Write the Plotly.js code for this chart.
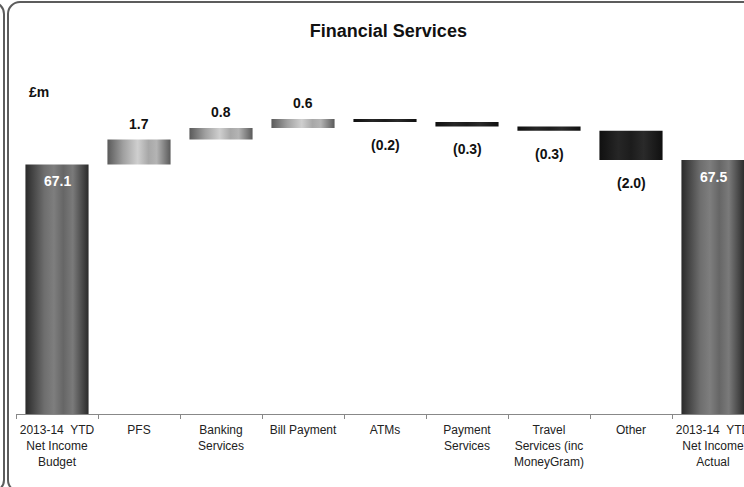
<!DOCTYPE html>
<html>
<head>
<meta charset="utf-8">
<script src="https://cdn.plot.ly/plotly-3.0.1.min.js"></script>
<style>
  html, body { margin: 0; padding: 0; width: 744px; height: 487px; overflow: hidden; background: #fff; }
  #chart { position: absolute; left: 0; top: 0; width: 760px; height: 487px; }
  .frame { position: absolute; border: 2px solid #5c5c5c; border-radius: 13px; pointer-events: none; box-sizing: border-box; }
</style>
</head>
<body>
<div id="chart"></div>
<div class="frame" style="left:-100px; top:1px; width:105px; height:492px;"></div>
<div class="frame" style="left:7px; top:1px; width:800px; height:492px;"></div>
<script>
const categories = ["2013-14 YTD Net Income Budget", "PFS", "Banking Services", "Bill Payment", "ATMs",
  "Payment Services", "Travel Services (inc MoneyGram)", "Other", "2013-14 YTD Net Income Actual"];
const tickLabels = ["2013-14  YTD<br>Net Income<br>Budget", "PFS", "Banking<br>Services", "Bill Payment", "ATMs",
  "Payment<br>Services", "Travel<br>Services (inc<br>MoneyGram)", "Other", "2013-14  YTD<br>Net Income<br>Actual"];
const measures = ["absolute", "relative", "relative", "relative", "relative", "relative", "relative", "relative", "total"];
const values = [67.1, 1.7, 0.8, 0.6, -0.2, -0.3, -0.3, -2.0, 0];
const valueLabels = ["67.1", "1.7", "0.8", "0.6", "(0.2)", "(0.3)", "(0.3)", "(2.0)", "67.5"];

// bar kinds derived from data
const kinds = measures.map((m, i) => m === "relative" ? (values[i] >= 0 ? "inc" : "dec") : "tot");

// running totals for label anchoring
const ends = [];
let run = 0;
measures.forEach((m, i) => {
  if (m === "absolute") run = values[i];
  else if (m === "relative") run += values[i];
  ends.push(run);
});

const FONT = "Arial, Liberation Sans, sans-serif";

const annotations = categories.map((c, i) => {
  const k = kinds[i];
  return {
    x: c, y: ends[i], xref: "x", yref: "y",
    text: "<b>" + valueLabels[i] + "</b>",
    showarrow: false, yanchor: "middle", xanchor: "center",
    yshift: k === "inc" ? 16 : (k === "dec" ? -23 : -17),
    font: { family: FONT, size: 14, color: k === "tot" ? "#ffffff" : "#111111" }
  };
});
annotations.push({
  xref: "paper", yref: "paper", x: 0.0149, y: 0.9096, xanchor: "left", yanchor: "middle",
  text: "<b>£m</b>", showarrow: false,
  font: { family: FONT, size: 14, color: "#111111" }
});

const trace = {
  type: "waterfall",
  x: categories,
  y: values,
  measure: measures,
  textinfo: "none",
  hoverinfo: "none",
  connector: { visible: false },
  increasing: { marker: { color: "#9a9a9a" } },
  decreasing: { marker: { color: "#1a1a1a" } },
  totals: { marker: { color: "#5a5a5a" } }
};

const layout = {
  width: 760, height: 487,
  margin: { l: 16, r: 6, t: 60, b: 73 },
  paper_bgcolor: "rgba(0,0,0,0)",
  plot_bgcolor: "rgba(0,0,0,0)",
  showlegend: false,
  waterfallgap: 0.23,
  title: {
    text: "<b>Financial Services</b>",
    x: 0.511, xref: "container", xanchor: "center",
    y: 0.936, yref: "container", yanchor: "middle",
    font: { family: FONT, size: 18, color: "#111111" }
  },
  xaxis: {
    type: "category",
    tickvals: categories, ticktext: tickLabels,
    tickangle: 0,
    tickson: "boundaries", ticks: "outside", ticklen: 4, tickcolor: "#888888",
    ticklabelstandoff: 5,
    showline: true, linecolor: "#888888", linewidth: 1,
    showgrid: false, zeroline: false,
    tickfont: { family: FONT, size: 12, color: "#222222" }
  },
  yaxis: {
    visible: false, range: [50, 74.25], showgrid: false, zeroline: false, fixedrange: true
  },
  annotations: annotations
};

const gradients = {
  tot: [[0, "#2a2a2a"], [0.3, "#6e6e6e"], [0.45, "#7e7e7e"], [0.6, "#666666"], [0.75, "#7a7a7a"], [1, "#2a2a2a"]],
  inc: [[0, "#5a5a5a"], [0.25, "#a0a0a0"], [0.48, "#cfcfcf"], [0.65, "#a8a8a8"], [0.78, "#b4b4b4"], [1, "#5a5a5a"]],
  dec: [[0, "#101010"], [0.3, "#262626"], [0.5, "#1c1c1c"], [0.7, "#2a2a2a"], [1, "#101010"]]
};

function applyGradients(gd) {
  const svg = gd.querySelector("svg.main-svg");
  if (!svg) return;
  let defs = svg.querySelector("defs");
  if (!defs) { defs = document.createElementNS("http://www.w3.org/2000/svg", "defs"); svg.insertBefore(defs, svg.firstChild); }
  Object.keys(gradients).forEach(k => {
    const id = "wfgrad-" + k;
    if (svg.querySelector("#" + id)) return;
    const lg = document.createElementNS("http://www.w3.org/2000/svg", "linearGradient");
    lg.setAttribute("id", id);
    lg.setAttribute("x1", "0"); lg.setAttribute("y1", "0"); lg.setAttribute("x2", "1"); lg.setAttribute("y2", "0");
    gradients[k].forEach(s => {
      const st = document.createElementNS("http://www.w3.org/2000/svg", "stop");
      st.setAttribute("offset", s[0]);
      st.setAttribute("stop-color", s[1]);
      lg.appendChild(st);
    });
    defs.appendChild(lg);
  });
  const paths = gd.querySelectorAll(".waterfalllayer .point path");
  paths.forEach((p, i) => {
    const k = kinds[i];
    if (k) p.style.fill = "url(#wfgrad-" + k + ")";
  });
}

const gd = document.getElementById("chart");
Plotly.newPlot(gd, [trace], layout, { displayModeBar: false, staticPlot: true }).then(() => {
  applyGradients(gd);
  gd.on("plotly_afterplot", () => applyGradients(gd));
});
</script>
</body>
</html>
